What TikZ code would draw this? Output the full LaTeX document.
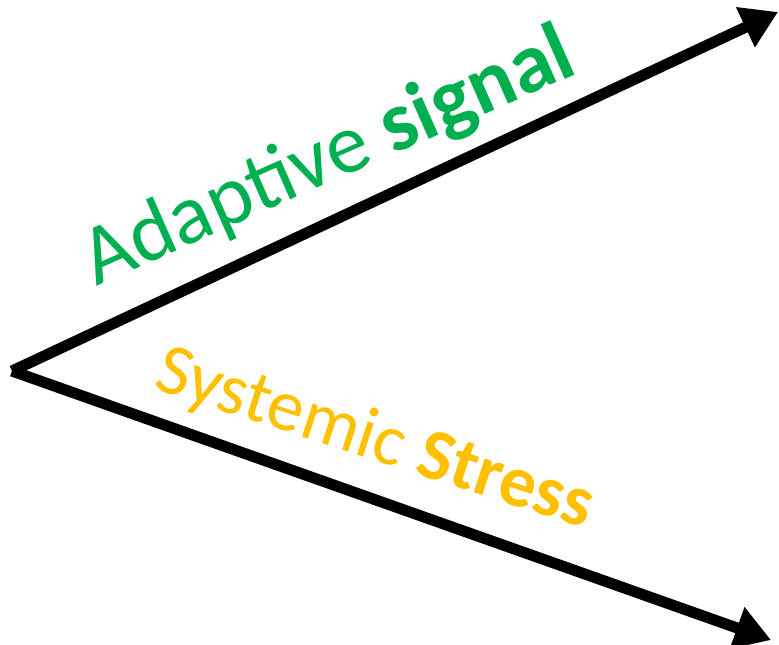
\documentclass[tikz,border=0pt]{standalone}
\usepackage{fontspec}
\setmainfont{Carlito}
\usetikzlibrary{arrows.meta}
\definecolor{signalgreen}{HTML}{00B050}
\definecolor{stressgold}{HTML}{FFC000}
\tikzset{
  trend/.style={line width=11pt, -{Triangle[length=36pt,width=42pt]}},
  lbl/.style={anchor=base west, inner sep=0pt, outer sep=0pt}
}
\begin{document}
\begin{tikzpicture}[x=1pt,y=-1pt]
  \path[use as bounding box] (0,0) rectangle (779,645);
  \coordinate (o) at (12,371);
  \coordinate (up) at (778,12);
  \coordinate (down) at (771,640);
  \draw[trend] (o) -- (up);
  \draw[trend] (o) -- (down);
  \node[lbl, rotate=23.8, text=signalgreen, font=\fontsize{85}{92}\selectfont]
    (sig) at (96,286) {Adaptive \textbf{signal}};
  \node[lbl, rotate=-18, text=stressgold, font=\fontsize{73}{80}\selectfont]
    (str) at (152,388) {Systemic \textbf{Stress}};
\end{tikzpicture}
\end{document}
